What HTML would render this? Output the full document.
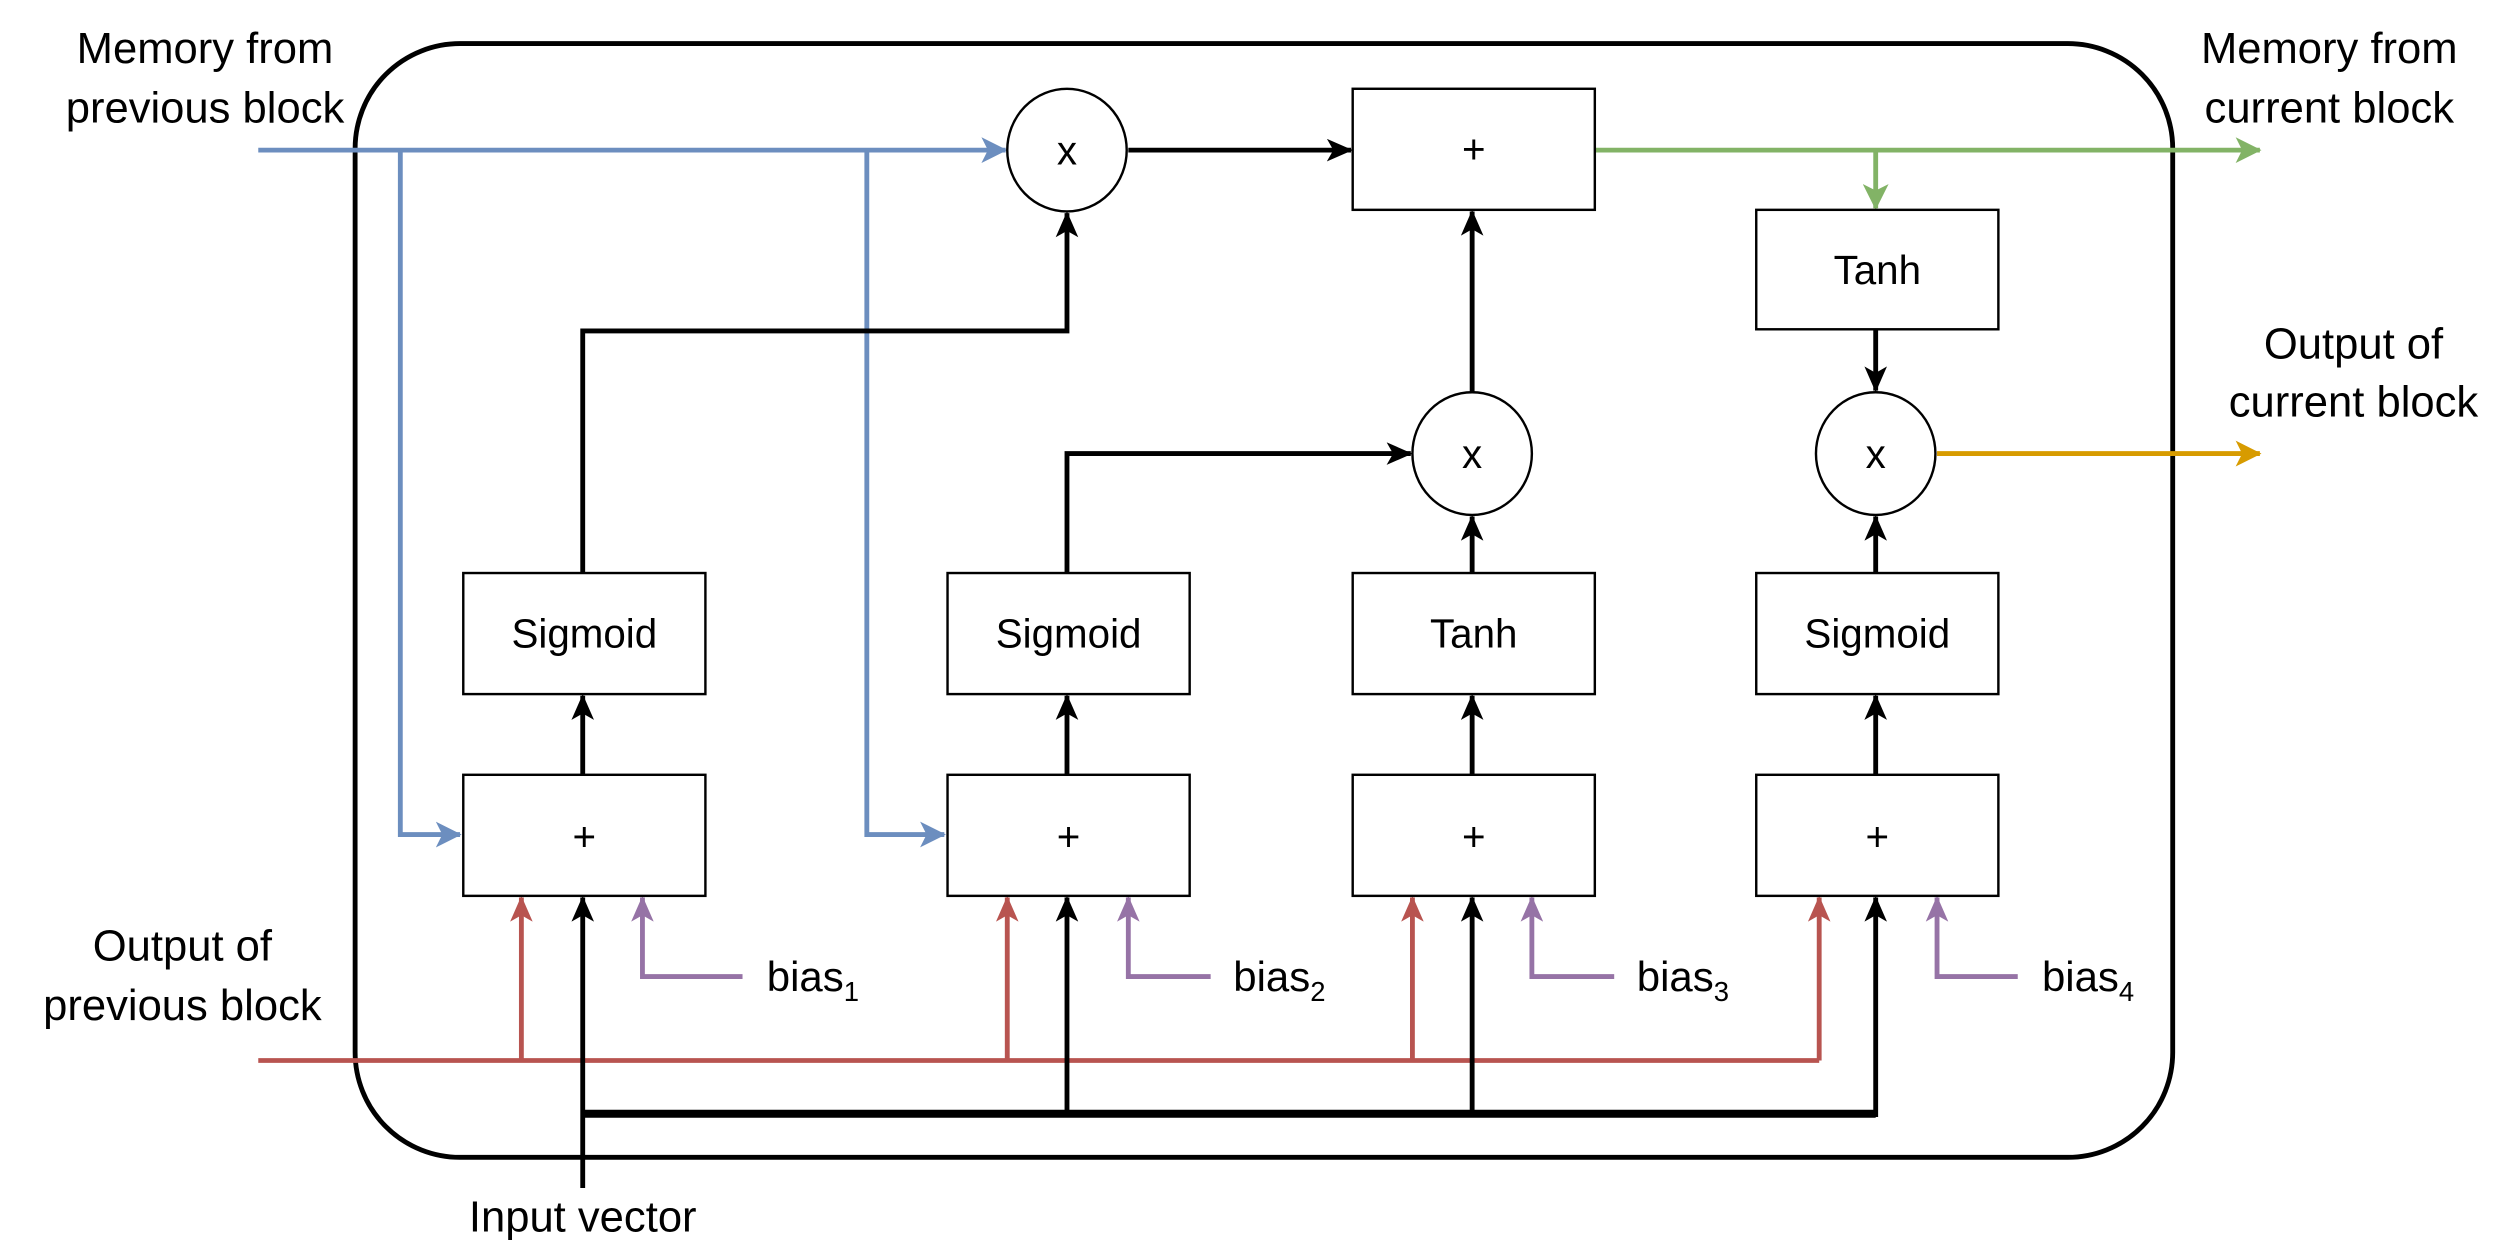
<!DOCTYPE html>
<html><head><meta charset="utf-8"><style>
html,body{margin:0;padding:0;background:#fff}
svg{display:block}
text{font-family:"Liberation Sans",Arial,sans-serif;fill:#000}
</style></head><body>
<svg width="2502" height="1240" viewBox="0 0 1550 768.2" preserveAspectRatio="none" xmlns="http://www.w3.org/2000/svg">
<defs>
<marker id="ak" markerWidth="16" markerHeight="14" refX="15" refY="7" orient="auto" markerUnits="userSpaceOnUse" viewBox="0 0 16 14"><path d="M0,0 L16,7 L0,14 L4,7 Z" fill="#000"/></marker>
<marker id="ab" markerWidth="16" markerHeight="16" refX="15" refY="8" orient="auto" markerUnits="userSpaceOnUse" viewBox="0 0 16 16"><path d="M0,0 L16,8 L0,16 L4,8 Z" fill="#6c8ebf"/></marker>
<marker id="ar" markerWidth="16" markerHeight="14" refX="15" refY="7" orient="auto" markerUnits="userSpaceOnUse" viewBox="0 0 16 14"><path d="M0,0 L16,7 L0,14 L4,7 Z" fill="#b85450"/></marker>
<marker id="ap" markerWidth="16" markerHeight="14" refX="15" refY="7" orient="auto" markerUnits="userSpaceOnUse" viewBox="0 0 16 14"><path d="M0,0 L16,7 L0,14 L4,7 Z" fill="#9673a6"/></marker>
<marker id="ag" markerWidth="16" markerHeight="16" refX="15" refY="8" orient="auto" markerUnits="userSpaceOnUse" viewBox="0 0 16 16"><path d="M0,0 L16,8 L0,16 L4,8 Z" fill="#82b366"/></marker>
<marker id="ao" markerWidth="16" markerHeight="16" refX="15" refY="8" orient="auto" markerUnits="userSpaceOnUse" viewBox="0 0 16 16"><path d="M0,0 L16,8 L0,16 L4,8 Z" fill="#d79b00"/></marker>
</defs>

<rect x="220" y="27" width="1126" height="690" rx="65" ry="65" fill="none" stroke="#000" stroke-width="3"/>

<g fill="none" stroke="#6c8ebf" stroke-width="3">
<path d="M160,93 L623,93" marker-end="url(#ab)"/>
<path d="M248,93 L248,517 L285,517" marker-end="url(#ab)"/>
<path d="M537,93 L537,517 L585,517" marker-end="url(#ab)"/>
</g>

<g fill="none" stroke="#b85450" stroke-width="3">
<path d="M160,657 L1127,657"/>
<path d="M323,657 L323,556" marker-end="url(#ar)"/>
<path d="M624,657 L624,556" marker-end="url(#ar)"/>
<path d="M875,657 L875,556" marker-end="url(#ar)"/>
<path d="M1127,657 L1127,556" marker-end="url(#ar)"/>
</g>

<g fill="none" stroke="#9673a6" stroke-width="3">
<path d="M460,605 L398,605 L398,556" marker-end="url(#ap)"/>
<path d="M750,605 L699,605 L699,556" marker-end="url(#ap)"/>
<path d="M1000,605 L949,605 L949,556" marker-end="url(#ap)"/>
<path d="M1250,605 L1200,605 L1200,556" marker-end="url(#ap)"/>
</g>

<g fill="none" stroke="#000" stroke-width="3">
<path d="M361,736 L361,556" marker-end="url(#ak)"/>
<path d="M361,690 L1162,690" stroke-width="5"/>
<path d="M661,692 L661,556" marker-end="url(#ak)"/>
<path d="M912,692 L912,556" marker-end="url(#ak)"/>
<path d="M1162,692 L1162,556" marker-end="url(#ak)"/>
<path d="M361,480 L361,431" marker-end="url(#ak)"/>
<path d="M661,480 L661,431" marker-end="url(#ak)"/>
<path d="M912,480 L912,431" marker-end="url(#ak)"/>
<path d="M1162,480 L1162,431" marker-end="url(#ak)"/>
<path d="M361,355 L361,205 L661,205 L661,132" marker-end="url(#ak)"/>
<path d="M661,355 L661,281 L874,281" marker-end="url(#ak)"/>
<path d="M912,355 L912,320" marker-end="url(#ak)"/>
<path d="M912,243 L912,131" marker-end="url(#ak)"/>
<path d="M699,93 L837,93" marker-end="url(#ak)"/>
<path d="M1162,355 L1162,320" marker-end="url(#ak)"/>
<path d="M1162,204 L1162,242" marker-end="url(#ak)"/>
</g>

<g fill="none" stroke-width="3">
<path d="M988,93 L1400,93" stroke="#82b366" marker-end="url(#ag)"/>
<path d="M1162,93 L1162,129" stroke="#82b366" marker-end="url(#ag)"/>
<path d="M1200,281 L1400,281" stroke="#d79b00" marker-end="url(#ao)"/>
</g>

<g fill="#fff" stroke="#000" stroke-width="1.5">
<rect x="838" y="55" width="150" height="75"/>
<rect x="1088" y="130" width="150" height="74"/>
<rect x="287" y="355" width="150" height="75"/>
<rect x="587" y="355" width="150" height="75"/>
<rect x="838" y="355" width="150" height="75"/>
<rect x="1088" y="355" width="150" height="75"/>
<rect x="287" y="480" width="150" height="75"/>
<rect x="587" y="480" width="150" height="75"/>
<rect x="838" y="480" width="150" height="75"/>
<rect x="1088" y="480" width="150" height="75"/>
<ellipse cx="661" cy="93" rx="37" ry="38"/>
<ellipse cx="912" cy="281" rx="37" ry="38"/>
<ellipse cx="1162" cy="281" rx="37" ry="38"/>
</g>

<g font-size="25" text-anchor="middle">
<text x="913" y="101">+</text>
<text x="1163" y="176">Tanh</text>
<text x="362" y="401">Sigmoid</text>
<text x="662" y="401">Sigmoid</text>
<text x="913" y="401">Tanh</text>
<text x="1163" y="401">Sigmoid</text>
<text x="362" y="527">+</text>
<text x="662" y="527">+</text>
<text x="913" y="527">+</text>
<text x="1163" y="527">+</text>
<text x="661" y="102">x</text>
<text x="912" y="290">x</text>
<text x="1162" y="290">x</text>
</g>

<g font-size="26">
<text x="475" y="614">bias<tspan font-size="17" dy="6">1</tspan></text>
<text x="764" y="614">bias<tspan font-size="17" dy="6">2</tspan></text>
<text x="1014" y="614">bias<tspan font-size="17" dy="6">3</tspan></text>
<text x="1265" y="614">bias<tspan font-size="17" dy="6">4</tspan></text>
</g>

<g font-size="27" text-anchor="middle">
<text x="127" y="39">Memory from</text>
<text x="127" y="76">previous block</text>
<text x="1443" y="39">Memory from</text>
<text x="1443" y="76">current block</text>
<text x="1458" y="222">Output of</text>
<text x="1458" y="258">current block</text>
<text x="113" y="595">Output of</text>
<text x="113" y="632">previous block</text>
<text x="361" y="763">Input vector</text>
</g>
</svg>
</body></html>
